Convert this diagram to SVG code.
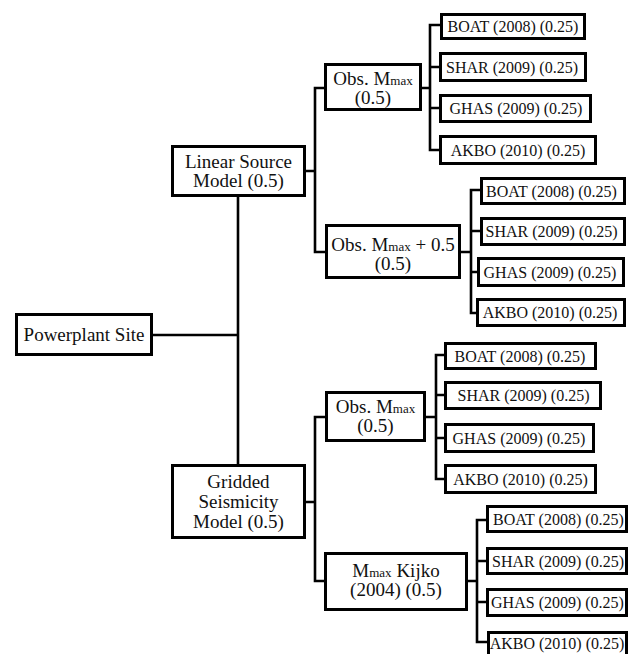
<svg xmlns="http://www.w3.org/2000/svg" width="628" height="654" viewBox="0 0 628 654">
<style>
.box{fill:#fff;stroke:#000;stroke-width:3}
.t{font-family:"Liberation Serif","Times New Roman",serif;font-size:19px;fill:#111;text-anchor:middle}
.l{font-family:"Liberation Serif","Times New Roman",serif;font-size:16px;fill:#111;text-anchor:middle}
.sub{font-size:13px}
.c{fill:none;stroke:#000;stroke-width:2.6}
</style>
<rect width="628" height="654" fill="#fff"/>
<g id="connectors">
<path class="c" d="M153,335 H238 M238,196 V465"/>
<path class="c" d="M305,171 H315 M325,88 H315 V252 H326"/>
<path class="c" d="M305,502 H315 M326,417 H315 V581 H325"/>
<path class="c" d="M421,88 H430 M441,25 H430 V150 H440 M430,67 H440 M430,108 H440"/>
<path class="c" d="M460,252 H471 M481,190 H471 V313 H477 M471,231 H481 M471,272 H478"/>
<path class="c" d="M425,417 H436 M445,355 H436 V479 H445 M436,395 H445 M436,438 H445"/>
<path class="c" d="M467,581 H477 M487,520 H477 V642 H488 M477,561 H487 M477,602 H487"/>
</g>
<g id="powerplant"><rect class="box" x="16.5" y="314.5" width="135" height="40"/><text class="t" x="84" y="341">Powerplant Site</text></g>
<g id="linear"><rect class="box" x="172.5" y="146.5" width="132" height="49"/><text class="t" x="238.5" y="168">Linear Source</text><text class="t" x="238.5" y="187">Model (0.5)</text></g>
<g id="gridded"><rect class="box" x="172.5" y="465.5" width="132" height="72"/><text class="t" x="238.5" y="488">Gridded</text><text class="t" x="238.5" y="508">Seismicity</text><text class="t" x="238.5" y="528">Model (0.5)</text></g>
<g id="lin-obs"><rect class="box" x="325.5" y="64.5" width="95" height="45"/><text class="t" x="373" y="85">Obs. M<tspan class="sub">max</tspan></text><text class="t" x="373" y="104">(0.5)</text></g>
<g id="lin-obs05"><rect class="box" x="326.5" y="225.5" width="133" height="52"/><text class="t" x="393" y="251">Obs. M<tspan class="sub">max</tspan> + 0.5</text><text class="t" x="393" y="270">(0.5)</text></g>
<g id="grid-obs"><rect class="box" x="326.5" y="392.5" width="98" height="48"/><text class="t" x="375.5" y="413">Obs. M<tspan class="sub">max</tspan></text><text class="t" x="375.5" y="432">(0.5)</text></g>
<g id="grid-kijko"><rect class="box" x="325.5" y="553.5" width="141" height="56"/><text class="t" x="396" y="577">M<tspan class="sub">max</tspan> Kijko</text><text class="t" x="396" y="596">(2004) (0.5)</text></g>
<g id="a-boat"><rect class="box" x="441.5" y="14.5" width="143" height="24"/><text class="l" x="513" y="32">BOAT (2008) (0.25)</text></g>
<g id="a-shar"><rect class="box" x="440.5" y="53.5" width="145" height="27"/><text class="l" x="512" y="72.5">SHAR (2009) (0.25)</text></g>
<g id="a-ghas"><rect class="box" x="440.5" y="95.5" width="150" height="26"/><text class="l" x="516" y="114">GHAS (2009) (0.25)</text></g>
<g id="a-akbo"><rect class="box" x="440.5" y="136.5" width="155" height="27"/><text class="l" x="518" y="155.5">AKBO (2010) (0.25)</text></g>
<g id="b-boat"><rect class="box" x="481.5" y="178.5" width="143" height="25"/><text class="l" x="551.5" y="196.5">BOAT (2008) (0.25)</text></g>
<g id="b-shar"><rect class="box" x="481.5" y="218.5" width="143" height="26"/><text class="l" x="551.5" y="237">SHAR (2009) (0.25)</text></g>
<g id="b-ghas"><rect class="box" x="478.5" y="258.5" width="145" height="27"/><text class="l" x="550" y="277.5">GHAS (2009) (0.25)</text></g>
<g id="b-akbo"><rect class="box" x="477.5" y="299.5" width="147" height="26"/><text class="l" x="550" y="318">AKBO (2010) (0.25)</text></g>
<g id="c-boat"><rect class="box" x="445.5" y="343.5" width="150" height="25"/><text class="l" x="520" y="361.5">BOAT (2008) (0.25)</text></g>
<g id="c-shar"><rect class="box" x="445.5" y="382.5" width="155" height="26"/><text class="l" x="523.5" y="401">SHAR (2009) (0.25)</text></g>
<g id="c-ghas"><rect class="box" x="445.5" y="424.5" width="148" height="27"/><text class="l" x="519" y="443.5">GHAS (2009) (0.25)</text></g>
<g id="c-akbo"><rect class="box" x="445.5" y="465.5" width="150" height="27"/><text class="l" x="520.5" y="484.5">AKBO (2010) (0.25)</text></g>
<g id="d-boat"><rect class="box" x="487.5" y="506.5" width="139" height="25"/><text class="l" x="558.5" y="524.5">BOAT (2008) (0.25)</text></g>
<g id="d-shar"><rect class="box" x="487.5" y="548.5" width="139" height="25"/><text class="l" x="558" y="566.5">SHAR (2009) (0.25)</text></g>
<g id="d-ghas"><rect class="box" x="487.5" y="589.5" width="139" height="26"/><text class="l" x="557.5" y="608">GHAS (2009) (0.25)</text></g>
<g id="d-akbo"><rect class="box" x="488.5" y="632.5" width="138" height="27"/><text class="l" x="557" y="649">AKBO (2010) (0.25)</text></g>
</svg>
